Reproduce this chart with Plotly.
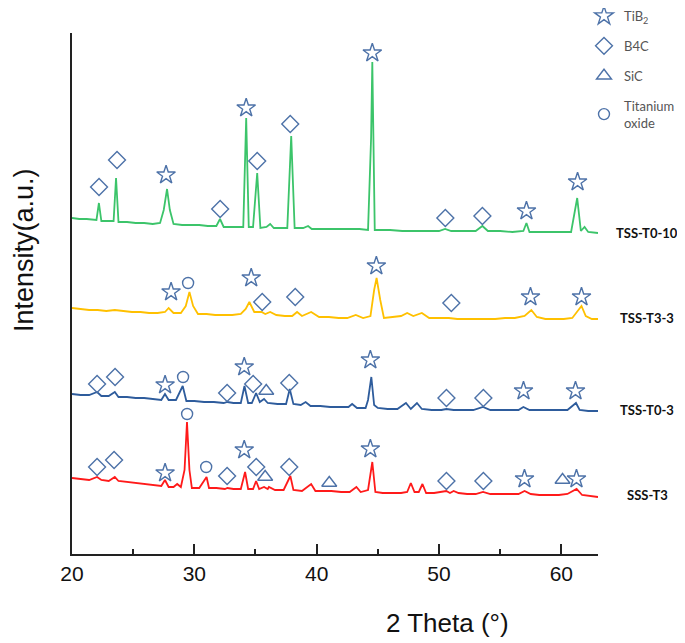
import plotly.graph_objects as go

# ---------------- data (2-theta in degrees, intensity in a.u., traces already offset) -------------
green_x = [20.0, 20.6, 21.2, 21.8, 22.0, 22.2, 22.4, 22.9, 23.4, 23.6, 23.8, 24.5, 25.2, 25.9, 26.6, 27.2,
           27.5, 27.77, 28.0, 28.3, 29.0, 29.7, 30.4, 31.1, 31.8, 32.1, 32.4, 33.0, 33.6, 34.0, 34.24, 34.45,
           34.8, 35.14, 35.4, 35.9, 36.2, 36.5, 37.3, 37.6, 37.92, 38.2, 38.9, 39.3, 39.6, 40.5, 41.5, 42.5,
           43.5, 44.2, 44.45, 44.55, 44.75, 45.2, 46.0, 47.0, 48.0, 49.0, 50.0, 50.5, 51.0, 52.0, 53.0, 53.55,
           54.0, 55.0, 56.0, 56.9, 57.15, 57.4, 58.0, 59.0, 60.0, 60.8, 61.3, 61.6, 61.9, 62.2, 63.0]
green_y = [336, 335, 335, 334, 334, 351, 333, 333, 333, 376, 332, 332, 331, 331, 330, 331,
           344, 365, 344, 330, 329, 329, 329, 328, 328, 335, 327, 327, 327, 327, 436, 327,
           327, 381, 326, 327, 330, 326, 326, 326, 418, 326, 326, 328, 325, 325, 325, 325,
           325, 324, 416, 492, 324, 324, 324, 323, 323, 323, 323, 325, 323, 323, 323, 328,
           323, 323, 322, 323, 331, 322, 322, 322, 322, 322, 356, 323, 327, 322, 321]

yellow_x = [20.0, 20.7, 21.4, 22.1, 22.8, 23.5, 24.2, 24.9, 25.6, 26.3, 27.0, 27.6, 27.9, 28.3, 28.9,
            29.3, 29.6, 29.9, 30.3, 31.0, 31.7, 32.4, 33.1, 33.8, 34.2, 34.5, 34.9, 35.5, 35.8, 36.2,
            36.7, 37.4, 38.0, 38.4, 38.8, 39.55, 40.2, 41.0, 41.8, 42.5, 43.2, 43.8, 44.4, 44.7, 44.9,
            45.2, 45.5, 46.2, 46.9, 47.4, 47.9, 48.6, 49.2, 50.0, 50.8, 51.5, 52.3, 53.0, 53.8, 54.6,
            55.4, 56.2, 57.0, 57.55, 58.0, 58.7, 59.4, 60.2, 60.9, 61.4, 61.65, 62.0, 62.5, 63.0]
yellow_y = [246, 245, 244, 244, 243, 244, 243, 242, 242, 241, 241, 242, 246, 241, 241,
            248, 262, 248, 240, 240, 239, 239, 239, 240, 245, 252, 242, 242, 240, 242,
            239, 238, 238, 242, 238, 242, 237, 237, 236, 236, 239, 236, 238, 264, 276,
            254, 236, 237, 238, 241, 238, 241, 236, 236, 236, 235, 235, 235, 235, 235,
            236, 236, 238, 244, 237, 235, 235, 235, 236, 244, 248, 238, 235, 235]

blue_x = [20.0, 20.7, 21.4, 22.05, 22.4, 23.0, 23.5, 23.8, 24.5, 25.2, 25.9, 26.6, 27.3, 27.6, 27.9,
          28.5, 29.05, 29.35, 30.0, 30.8, 31.6, 32.4, 32.7, 33.2, 33.8, 34.1, 34.4, 34.7, 35.05, 35.35,
          35.7, 36.0, 36.8, 37.5, 37.8, 38.1, 38.7, 39.1, 39.5, 40.3, 41.1, 41.9, 42.6, 42.9, 43.3,
          44.0, 44.2, 44.47, 44.7, 45.0, 45.8, 46.6, 47.3, 47.7, 48.2, 48.6, 49.4, 50.2, 50.6, 51.2,
          52.0, 52.8, 53.6, 54.2, 55.0, 55.8, 56.5, 56.9, 57.4, 58.2, 59.0, 59.8, 60.5, 61.2, 61.5,
          62.2, 63.0]
blue_y = [160, 159, 159, 162, 158, 158, 162, 157, 157, 156, 156, 155, 154, 160, 154,
          154, 168, 153, 153, 152, 152, 151, 152, 151, 151, 168, 151, 151, 161, 152,
          155, 151, 150, 150, 165, 150, 149, 152, 148, 148, 147, 147, 147, 150, 146,
          146, 154, 177, 149, 146, 145, 145, 151, 145, 151, 145, 144, 144, 145, 144,
          144, 144, 147, 144, 144, 144, 144, 147, 144, 144, 144, 144, 144, 151, 144,
          143, 143]

red_x = [20.0, 20.7, 21.4, 22.05, 22.4, 23.0, 23.5, 23.8, 24.5, 25.2, 25.9, 26.6, 27.3, 27.6, 27.9,
         28.3, 28.6, 28.9, 29.2, 29.4, 29.6, 29.8, 30.4, 31.0, 31.2, 31.8, 32.5, 32.7, 33.2, 33.8,
         34.15, 34.4, 34.8, 35.05, 35.3, 35.7, 36.0, 36.1, 36.6, 37.3, 37.85, 38.1, 38.8, 39.55, 39.9,
         40.5, 41.2, 42.0, 42.7, 43.25, 43.6, 44.2, 44.55, 44.8, 45.4, 46.2, 46.9, 47.4, 47.7, 48.0,
         48.35, 48.65, 48.95, 49.6, 50.4, 50.6, 50.9, 51.2, 51.6, 52.3, 53.0, 53.6, 54.2, 55.0, 55.8,
         56.5, 57.0, 57.5, 58.2, 59.0, 59.8, 60.5, 61.25, 61.7, 62.4, 63.0]
red_y = [76, 75, 74, 77, 74, 73, 77, 73, 72, 71, 70, 69, 68, 74, 67,
         67, 70, 67, 84, 132, 84, 66, 66, 77, 66, 66, 65, 66, 65, 65,
         82, 65, 65, 73, 65, 67, 65, 67, 64, 64, 78, 64, 63, 70, 63,
         63, 63, 62, 62, 67, 62, 64, 92, 62, 61, 61, 61, 62, 71, 62,
         62, 70, 61, 61, 62, 63, 61, 63, 61, 60, 60, 62, 60, 60, 60,
         60, 63, 60, 59, 59, 59, 60, 65, 59, 58, 57]

# phase markers
tib2_x = [27.69, 34.24, 44.55, 57.15, 61.33, 28.10, 34.65, 44.88, 57.48, 61.65,
          27.61, 34.08, 44.39, 56.91, 61.16, 27.61, 34.08, 44.39, 56.99, 61.24]
tib2_y = [379, 446, 501, 343, 372, 262, 276, 288, 257, 257,
          169, 187, 194, 163, 163, 81, 104, 105, 75, 75]
b4c_x = [22.21, 23.68, 32.11, 35.14, 37.84, 50.52, 53.55, 35.55, 38.25, 51.01,
         22.05, 23.52, 32.68, 34.81, 37.76, 50.61, 53.63, 22.05, 23.44, 32.68, 35.06, 37.76, 50.61, 53.63]
b4c_y = [367, 394, 345, 393, 430, 336, 338, 252, 257, 251,
         170, 177, 161, 170, 171, 156, 156, 87, 94, 78, 87, 87, 73, 73]
sic_x = [35.88, 35.79, 41.03, 60.10]
sic_y = [163, 77, 71, 74]
tio_x = [29.49, 29.08, 29.41, 30.97]
tio_y = [271, 177, 140, 87]

series_names = ["TSS-T0-10", "TSS-T3-3", "TSS-T0-3", "SSS-T3"]
series_label_y = [321, 236, 144, 59]
line_colors = ["#3cc46a", "#ffc000", "#2e5c9c", "#ff1a1a"]
marker_color = "#4d72a8"
AX_FONT = "Liberation Sans, Arial, sans-serif"

fig = go.Figure()
for xs, ys, c, n in zip([green_x, yellow_x, blue_x, red_x], [green_y, yellow_y, blue_y, red_y],
                        line_colors, series_names):
    fig.add_trace(go.Scatter(x=xs, y=ys, mode="lines", line=dict(color=c, width=1.8),
                             name=n, showlegend=False))

phases = [
    ("TiB<sub>2</sub>", tib2_x, tib2_y, "star-open", 14),
    ("B4C", b4c_x, b4c_y, "diamond-open", 13),
    ("SiC", sic_x, sic_y, "triangle-up-open", 13),
    ("Titanium<br>oxide", tio_x, tio_y, "circle-open", 11),
]
for i, (nm, xs, ys, sym, sz) in enumerate(phases):
    fig.add_trace(go.Scatter(x=xs, y=ys, mode="markers", name=nm, legendgroup=str(i),
                             marker=dict(symbol=sym, size=sz, color=marker_color,
                                         line=dict(color=marker_color, width=1.4))))

for n, yv in zip(series_names, series_label_y):
    fig.add_annotation(x=(647 - 72) / 526, xref="paper", y=yv, yref="y", text="<b>%s</b>" % n,
                       showarrow=False, xanchor="center", yanchor="middle",
                       font=dict(family="Lato, Open Sans, sans-serif", size=13, color="#111111"))

fig.add_annotation(x=(447 - 72) / 526, xref="paper", y=-(623 - 554) / 521, yref="paper",
                   text="2 Theta (°)", showarrow=False, xanchor="center", yanchor="middle",
                   font=dict(family=AX_FONT, size=26, color="#111111"))
fig.add_annotation(x=(24 - 72) / 526, xref="paper", y=(554 - 250) / 521, yref="paper",
                   text="Intensity(a.u.)", showarrow=False, textangle=-90, xanchor="center",
                   yanchor="middle",
                   font=dict(family=AX_FONT, size=27, color="#111111"))

# the page body adds an 8px offset, so the figure is 8px smaller and the left/top margins 8px less
fig.update_layout(
    width=677, height=635,
    margin=dict(l=64, r=87, t=25, b=89, autoexpand=False),
    plot_bgcolor="white", paper_bgcolor="white",
    showlegend=True,
    legend=dict(x=(584 - 72) / 526, xanchor="left", y=1 + 32 / 521, yanchor="top",
                traceorder="grouped", tracegroupgap=10, bgcolor="rgba(0,0,0,0)",
                font=dict(family="Lato, Open Sans, sans-serif", size=13, color="#555555")),
    xaxis=dict(range=[20, 63], showgrid=False, zeroline=False, showline=True, linecolor="#222222",
               linewidth=2, ticks="inside", ticklen=10, tickwidth=1.5, tickcolor="#222222",
               tick0=20, dtick=10, automargin=False,
               minor=dict(ticks="inside", ticklen=5, tickwidth=1.5, tickcolor="#222222", dtick=5),
               tickfont=dict(family=AX_FONT, size=21, color="#111111")),
    yaxis=dict(range=[0, 521], showgrid=False, zeroline=False, showline=True, linecolor="#222222",
               linewidth=2, showticklabels=False, ticks="", automargin=False),
)

fig.write_html("out.html")
